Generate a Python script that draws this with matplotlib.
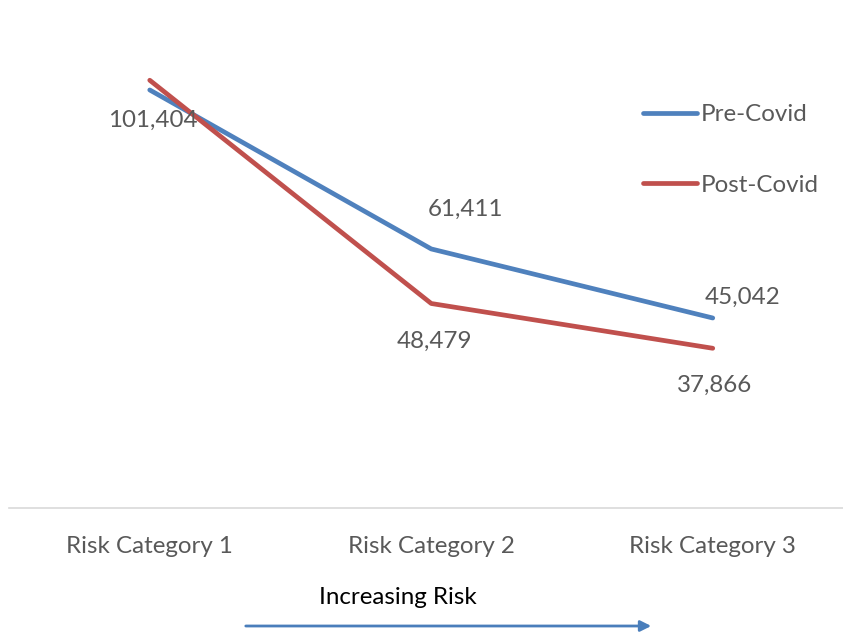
import matplotlib
matplotlib.use("Agg")
import matplotlib.pyplot as plt

categories = ["Risk Category 1", "Risk Category 2", "Risk Category 3"]
pre_covid = [99100, 61411, 45042]
post_covid = [101404, 48479, 37866]
pre_labels = [None, "61,411", "45,042"]
post_labels = ["101,404", "48,479", "37,866"]

BLUE = "#4F81BD"
RED = "#C0504D"
GRAY = "#595959"
FONT = "Lato"
FS = 17.4

W, H = 843, 634
fig = plt.figure(figsize=(W / 100, H / 100), dpi=100)
ax = fig.add_axes([9 / W, (H - 508) / H, (W - 9) / W, (508 - 1.8) / H])

x = list(range(len(categories)))
ax.plot(x, pre_covid, color=BLUE, lw=3.4, label="Pre-Covid", solid_capstyle="round")
ax.plot(x, post_covid, color=RED, lw=3.4, label="Post-Covid", solid_capstyle="round")

ax.set_xlim(-0.5, -0.5 + (W - 9) / 281.5)
ax.set_ylim(0, 120000)

pre_off = [(0, 0), (34, 40), (30, 21)]
post_off = [(3, -40), (3, -38), (2, -37)]
for i, (v, lab) in enumerate(zip(pre_covid, pre_labels)):
    if lab:
        ax.annotate(lab, (i, v), xytext=pre_off[i], textcoords="offset pixels",
                    ha="center", va="center", fontsize=FS, color=GRAY, family=FONT)
for i, (v, lab) in enumerate(zip(post_covid, post_labels)):
    if lab:
        ax.annotate(lab, (i, v), xytext=post_off[i], textcoords="offset pixels",
                    ha="center", va="center", fontsize=FS, color=GRAY, family=FONT)

for s in ["top", "right", "left"]:
    ax.spines[s].set_visible(False)
ax.spines["bottom"].set_color("#D9D9D9")
ax.spines["bottom"].set_linewidth(1.2)
ax.set_yticks([])
ax.set_xticks(x)
ax.set_xticklabels(categories, fontsize=FS, color=GRAY, family=FONT)
ax.tick_params(axis="x", length=0, pad=20)

leg = ax.legend(loc="upper left", bbox_to_anchor=((643 - 9) / (W - 9), (508 - 104) / 506.2),
                frameon=False, handlelength=2.25, handletextpad=0.12,
                borderpad=0, borderaxespad=0,
                labelspacing=2.05, prop={"family": FONT, "size": FS})
for t in leg.get_texts():
    t.set_color(GRAY)

fig.text(398 / W, 1 - 597 / H, "Increasing Risk", ha="center", va="center",
         fontsize=FS, color="black", family=FONT)
fig.add_artist(matplotlib.patches.FancyArrowPatch(
    (243 / W, 1 - 626 / H), (654 / W, 1 - 626 / H), transform=fig.transFigure,
    arrowstyle="-|>", mutation_scale=16, color="#4A7EBB", lw=2.0))

fig.savefig("out.png", dpi=100)
